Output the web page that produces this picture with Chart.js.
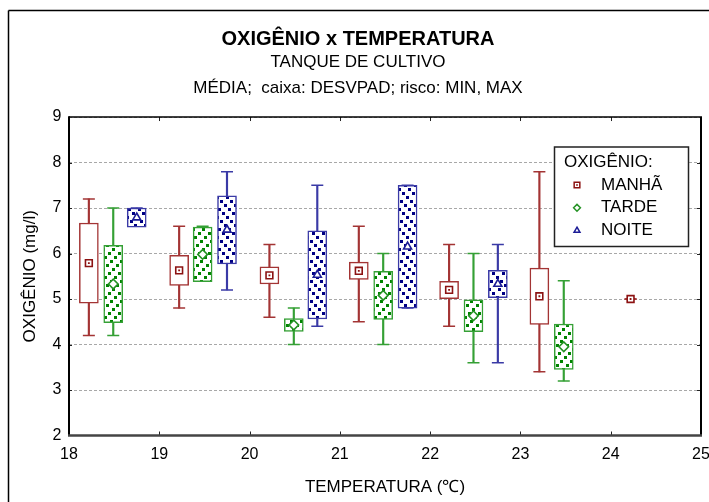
<!DOCTYPE html>
<html>
<head>
<meta charset="utf-8">
<script src="https://cdn.jsdelivr.net/npm/chart.js@4.4.1/dist/chart.umd.min.js"></script>
<style>
  html, body { margin: 0; padding: 0; background: #fff; }
  #wrap { width: 709px; height: 502px; }
</style>
</head>
<body>
<div id="wrap"><canvas id="oxi-chart" width="709" height="502"></canvas></div>
<script>
// eixos
const xTicks = [18, 19, 20, 21, 22, 23, 24, 25];
const yTicks = [2, 3, 4, 5, 6, 7, 8, 9];

// MANHÃ: temperatura, média, desvio padrão, mínimo, máximo
const manhaTemp = [18.22, 19.22, 20.22, 21.21, 22.21, 23.21, 24.22];
const manhaMedia = [5.79, 5.63, 5.52, 5.62, 5.20, 5.06, 5.00];
const manhaDesv = [0.88, 0.33, 0.19, 0.19, 0.19, 0.62, 0.00];
const manhaMin = [4.2, 4.8, 4.6, 4.5, 4.4, 3.4, 5.0];
const manhaMax = [7.2, 6.6, 6.2, 6.6, 6.2, 7.8, 5.0];

// TARDE
const tardeTemp = [18.49, 19.48, 20.49, 21.48, 22.48, 23.48];
const tardeMedia = [5.33, 5.98, 4.43, 5.08, 4.63, 3.95];
const tardeDesv = [0.85, 0.60, 0.14, 0.53, 0.35, 0.50];
const tardeMin = [4.2, 5.4, 4.0, 4.0, 3.6, 3.2];
const tardeMax = [7.0, 6.6, 4.8, 6.0, 6.0, 5.4];

// NOITE
const noiteTemp = [18.75, 19.75, 20.75, 21.75, 22.75];
const noiteMedia = [6.79, 6.52, 5.53, 6.15, 5.33];
const noiteDesv = [0.21, 0.75, 0.97, 1.35, 0.30];
const noiteMin = [6.6, 5.2, 4.4, 4.8, 3.6];
const noiteMax = [7.0, 7.8, 7.5, 7.5, 6.2];

const FONT = '"Liberation Sans", Arial, sans-serif';
Chart.defaults.font.family = FONT;
Chart.defaults.color = '#000';

const canvas = document.getElementById('oxi-chart');
const ctx = canvas.getContext('2d');

// hachura: quadradinhos em linhas diagonais (passo 4px, linhas a cada 10px)
function makeHatch(color, dir) {
  const W = 10, H = 20;
  const c = document.createElement('canvas');
  c.width = W; c.height = H;
  const g = c.getContext('2d');
  g.fillStyle = '#fff';
  g.fillRect(0, 0, W, H);
  g.fillStyle = color;
  for (let k = 0; k < 5; k++) {
    const px = (4 * k) % W;
    const py = dir === '/' ? ((-4 * k) % H + H) % H : (4 * k) % H;
    [[0, 0], [-W, 0], [0, -H], [-W, -H]].forEach(([dx, dy]) => g.fillRect(px + dx, py + dy, 3, 3));
  }
  return ctx.createPattern(c, 'repeat');
}

const series = [
  { label: 'MANHÃ', temp: manhaTemp, media: manhaMedia, desv: manhaDesv, min: manhaMin, max: manhaMax,
    line: '#a33434', mark: '#8c1212', fill: '#ffffff', shape: 'rect', r: 4.8, dot: true },
  { label: 'TARDE', temp: tardeTemp, media: tardeMedia, desv: tardeDesv, min: tardeMin, max: tardeMax,
    line: '#35a035', mark: '#249224', fill: makeHatch('#008400', '/'), shape: 'rectRot', r: 4.8 },
  { label: 'NOITE', temp: noiteTemp, media: noiteMedia, desv: noiteDesv, min: noiteMin, max: noiteMax,
    line: '#3a3aa6', mark: '#1c1c96', fill: makeHatch('#000084', '\\'), shape: 'triangle', r: 4.6 }
];

const datasets = [];
series.forEach(s => {
  // risco: MIN-MAX
  datasets.push({
    type: 'bar', order: 3,
    data: s.temp.map((t, i) => ({ x: t, y: [s.min[i], s.max[i]] })),
    backgroundColor: s.line, borderWidth: 0,
    barThickness: 1.5, maxBarThickness: 1.5, grouped: false
  });
  datasets.push({
    type: 'scatter', order: 3,
    data: s.temp.flatMap((t, i) => [{ x: t, y: s.min[i] }, { x: t, y: s.max[i] }]),
    pointStyle: 'line', pointRadius: 6, pointBorderColor: s.line, pointBorderWidth: 1.5
  });
  // caixa: média ± desvio padrão
  datasets.push({
    type: 'bar', order: 2,
    data: s.temp.map((t, i) => ({ x: t, y: [s.media[i] - s.desv[i], s.media[i] + s.desv[i]] })),
    backgroundColor: s.fill, borderColor: s.line, borderWidth: 1.5, borderSkipped: false,
    barThickness: 19, maxBarThickness: 19, grouped: false
  });
  // média
  datasets.push({
    type: 'scatter', order: 1,
    data: s.temp.map((t, i) => ({ x: t, y: s.media[i] })),
    pointStyle: s.shape, pointRadius: s.r, pointBackgroundColor: '#fff',
    pointBorderColor: s.mark, pointBorderWidth: 1.6
  });
  if (s.dot) {
    datasets.push({
      type: 'scatter', order: 0,
      data: s.temp.map((t, i) => ({ x: t, y: s.media[i] })),
      pointStyle: 'rect', pointRadius: 1.3, pointBackgroundColor: s.mark,
      pointBorderColor: s.mark, pointBorderWidth: 0
    });
  }
});

function drawMarker(c, shape, x, y, r, color, dot) {
  c.beginPath();
  if (shape === 'rect') {
    const h = r * Math.SQRT1_2;
    c.rect(x - h, y - h, 2 * h, 2 * h);
  } else if (shape === 'rectRot') {
    c.moveTo(x - r, y); c.lineTo(x, y - r); c.lineTo(x + r, y); c.lineTo(x, y + r); c.closePath();
  } else {
    c.moveTo(x, y - r);
    c.lineTo(x + r * 0.866, y + r / 2);
    c.lineTo(x - r * 0.866, y + r / 2);
    c.closePath();
  }
  c.fillStyle = '#fff';
  c.fill();
  c.strokeStyle = color;
  c.lineWidth = 1.5;
  c.stroke();
  if (dot) {
    c.fillStyle = color;
    c.fillRect(x - 0.8, y - 0.8, 1.6, 1.6);
  }
}

const framePlugin = {
  id: 'frame',
  afterDraw(chart) {
    const c = chart.ctx;
    const a = chart.chartArea;
    const { x, y } = chart.scales;
    const seg = (x1, y1, x2, y2) => { c.beginPath(); c.moveTo(x1, y1); c.lineTo(x2, y2); c.stroke(); };
    c.save();
    // moldura externa
    c.strokeStyle = '#000';
    c.lineWidth = 1.5;
    seg(8.5, 502, 8.5, 10.5);
    seg(8.5, 10.5, 709, 10.5);
    // marcas internas
    c.lineWidth = 1;
    c.strokeStyle = '#222';
    xTicks.slice(1, -1).forEach(v => {
      const px = Math.round(x.getPixelForValue(v)) + 0.5;
      seg(px, a.bottom, px, a.bottom - 4);
      seg(px, a.top, px, a.top + 4);
    });
    yTicks.slice(1, -1).forEach(v => {
      const py = Math.round(y.getPixelForValue(v)) + 0.5;
      seg(a.left, py, a.left + 3, py);
      seg(a.right, py, a.right - 4, py);
    });
    // eixos
    c.strokeStyle = '#000';
    c.lineWidth = 1.5;
    seg(a.left, a.top, a.right + 1, a.top);
    c.lineWidth = 2;
    seg(a.right, a.top, a.right, a.bottom);
    seg(a.left, a.top - 0.7, a.left, a.bottom);
    c.strokeStyle = '#444';
    c.lineWidth = 2.5;
    seg(a.left - 1, a.bottom, a.right + 1, a.bottom);
    c.restore();
  }
};

const legendPlugin = {
  id: 'boxLegend',
  afterDraw(chart) {
    const c = chart.ctx;
    c.save();
    c.fillStyle = '#fff';
    c.fillRect(554.5, 147, 134, 99.5);
    c.strokeStyle = '#222';
    c.lineWidth = 1.5;
    c.strokeRect(554.5, 147, 134, 99.5);
    c.font = '17px ' + FONT;
    c.textBaseline = 'middle';
    c.textAlign = 'left';
    c.fillStyle = '#000';
    c.fillText('OXIGÊNIO:', 564, 162.5);
    series.forEach((s, i) => {
      const yy = 185 + i * 22.8;
      drawMarker(c, s.shape, 577, yy, s.shape === 'rect' ? 4 : 3.4, s.mark, s.dot);
      c.fillStyle = '#000';
      c.fillText(s.label, 601, yy);
    });
    c.restore();
  }
};

new Chart(ctx, {
  type: 'bar',
  data: { datasets: datasets },
  options: {
    responsive: false,
    animation: false,
    events: [],
    layout: { padding: { left: 15, right: 8, top: 0, bottom: 0 } },
    plugins: {
      legend: { display: false },
      tooltip: { enabled: false },
      title: {
        display: true,
        text: 'OXIGÊNIO x TEMPERATURA',
        color: '#000',
        font: { size: 20, weight: 'bold', lineHeight: 1 },
        padding: { top: 29, bottom: 0 }
      },
      subtitle: {
        display: true,
        text: ['TANQUE DE CULTIVO', 'MÉDIA;  caixa: DESVPAD; risco: MIN, MAX'],
        color: '#000',
        font: { size: 17, lineHeight: 1.56 },
        padding: { top: 0, bottom: 15 }
      }
    },
    scales: {
      x: {
        type: 'linear',
        min: xTicks[0],
        max: xTicks[xTicks.length - 1],
        offset: false,
        grid: { display: false, offset: false, drawTicks: false },
        border: { display: false },
        afterBuildTicks: s => { s.ticks = xTicks.map(v => ({ value: v })); },
        afterFit: s => { s.height = 66.5; s.paddingLeft = 0; s.paddingRight = 0; },
        ticks: { color: '#000', font: { size: 16 }, padding: 9, maxRotation: 0 },
        title: { display: true, text: 'TEMPERATURA (℃)', color: '#000', font: { size: 17 }, padding: { top: 0, bottom: 4.8 } }
      },
      y: {
        type: 'linear',
        min: yTicks[0],
        max: yTicks[yTicks.length - 1],
        beginAtZero: false,
        grid: { color: '#a8a8a8', lineWidth: 1, drawTicks: false },
        border: { display: false, dash: [3, 2] },
        afterBuildTicks: s => { s.ticks = yTicks.map(v => ({ value: v })); },
        afterFit: s => { s.width = 54; s.paddingTop = 0; s.paddingBottom = 0; },
        ticks: { color: '#000', font: { size: 16 }, padding: 7.5 },
        title: { display: true, text: 'OXIGÊNIO (mg/l)', color: '#000', font: { size: 17 }, padding: { top: 4.8, bottom: 0 } }
      }
    }
  },
  plugins: [framePlugin, legendPlugin]
});
</script>
</body>
</html>
